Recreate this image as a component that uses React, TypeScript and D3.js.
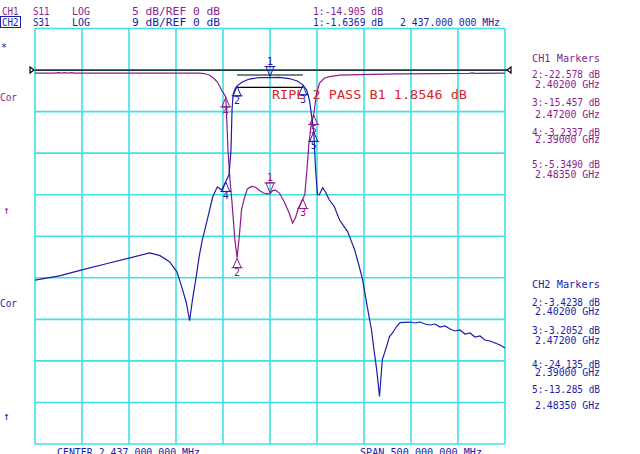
import React from "react";
import * as d3 from "d3";

// ---------- data ----------
const freqStart = 2187; // MHz
const freqStop = 2687; // MHz
const ch1Range = [5, -45]; // dB top/bottom (5 dB/div, ref 0 dB)
const ch2Range = [9, -81]; // dB top/bottom (9 dB/div, ref 0 dB)

// CH1 S11 (MHz, dB)
const ch1Trace: [number, number][] = [
  [2187, -0.36], [2207, -0.36], [2212, -0.32], [2215, -0.38], [2218, -0.32], [2222, -0.38],
  [2226, -0.32], [2229, -0.36], [2260, -0.36], [2300, -0.36], [2340, -0.36], [2362, -0.37],
  [2367, -0.42], [2372.5, -0.6], [2378, -1.08], [2381, -1.44], [2385.5, -2.4], [2390, -3.2337],
  [2392.3, -9.6], [2394.4, -13.2], [2396.5, -15.8], [2399.6, -20.4], [2402, -22.578],
  [2404.5, -19.8], [2406.7, -16.8], [2410, -15.3], [2413, -14.3], [2417.3, -14.0],
  [2421.6, -14.1], [2425.8, -14.5], [2430, -14.8], [2434.3, -14.9], [2437, -14.905],
  [2439.7, -14.5], [2442.8, -14.45], [2447, -14.8], [2452.4, -15.9], [2457.7, -17.3],
  [2461, -18.4], [2464, -17.8], [2467.3, -16.6], [2472, -15.457], [2474, -15.0],
  [2476.3, -12.0], [2478.3, -9.0], [2480.5, -6.8], [2483.5, -5.349], [2486.5, -2.8],
  [2489.7, -1.56], [2495, -0.96], [2500.3, -0.8], [2511, -0.6], [2532, -0.54], [2575, -0.46],
  [2649, -0.4], [2652, -0.33], [2655, -0.4], [2660, -0.4], [2687, -0.36],
];

// CH2 S31 (MHz, dB)
const ch2Trace: [number, number][] = [
  [2187, -45.5], [2213, -44.6], [2237, -43.3], [2266, -41.8], [2288, -40.7], [2309, -39.6],
  [2320, -40.2], [2330, -41.5], [2338, -43.7], [2343, -46.9], [2348, -50.4], [2351.5, -54.3],
  [2354.5, -49.8], [2358, -45.4], [2362, -40.0], [2365, -36.8], [2369.5, -33.1], [2376, -27.5],
  [2381, -25.3], [2385.5, -26.0], [2390, -24.135], [2393.4, -22.7], [2395.5, -17.3],
  [2396.6, -8.7], [2397.7, -5.4], [2399.8, -4.1], [2402, -3.4238], [2407.5, -2.6],
  [2415, -1.95], [2425.5, -1.62], [2437, -1.6369], [2447, -1.58], [2457.5, -1.84],
  [2466, -2.38], [2472, -3.2052], [2476, -4.3], [2479, -6.5], [2483.5, -13.285],
  [2485.5, -21.6], [2487.5, -27.0], [2489.5, -27.0], [2493, -25.5], [2496, -26.4],
  [2500, -28.1], [2505.5, -29.6], [2511, -32.5], [2519.5, -35.0], [2527, -38.9],
  [2532, -42.6], [2535.5, -45.4], [2540.5, -51.3], [2545, -56.3], [2548, -61.2],
  [2550.5, -64.9], [2553.5, -70.7], [2556.5, -62.7], [2561, -59.9], [2564, -57.8],
  [2567.5, -56.9], [2571.5, -55.6], [2575.3, -54.7], [2586, -54.58], [2591.3, -54.79],
  [2596.6, -54.58], [2601.9, -55.01], [2607.2, -55.22], [2612.5, -55.01], [2617.9, -55.66],
  [2623.2, -55.44], [2628.5, -56.09], [2633.8, -56.52], [2639.1, -56.3], [2644.4, -57.17],
  [2649.8, -56.95], [2655.1, -57.82], [2660.4, -57.61], [2665.7, -58.48], [2671, -58.69],
  [2676.4, -59.13], [2681.7, -59.56], [2687, -60.21],
];

const markerIds = ["1", "2", "3", "4", "5"];
const markerFreqs = [2437, 2402, 2472, 2390, 2483.5];
const ch1MarkerDb = [-14.905, -22.578, -15.457, -3.2337, -5.349];
const ch2MarkerDb = [-1.6369, -3.4238, -3.2052, -24.135, -13.285];

const rippleFreqs = [2402, 2472];
const rippleLevels = [-1.07, -3.74]; // CH2 dB

const headerCh1 = ["CH1", "S11", "LOG", "5 dB/REF 0 dB", "1:-14.905 dB"];
const headerCh2 = ["CH2", "S31", "LOG", "9 dB/REF 0 dB", "1:-1.6369 dB", "2 437.000 000 MHz"];
const ch1Panel = ["CH1 Markers", "2:-22.578 dB", "2.40200 GHz", "3:-15.457 dB", "2.47200 GHz",
  "4:-3.2337 dB", "2.39000 GHz", "5:-5.3490 dB", "2.48350 GHz"];
const ch2Panel = ["CH2 Markers", "2:-3.4238 dB", "2.40200 GHz", "3:-3.2052 dB", "2.47200 GHz",
  "4:-24.135 dB", "2.39000 GHz", "5:-13.285 dB", "2.48350 GHz"];
const rippleText = "RIPL 2 PASS B1 1.8546 dB";
const centerText = "CENTER 2 437.000 000 MHz";
const spanText = "SPAN 500.000 000 MHz";

// ---------- style ----------
const W = 640, H = 454;
const PURPLE = "#8B1C8B";
const BLUE = "#1C1CA6";
const GRID = "#40E0E8";
const RED = "#D42828";
const FONT = "DejaVu Sans Mono, monospace";

const L = 35, R = 505, T = 28.5, B = 444;

function Txt({ x, y, w, color, size = 10, children, anchor }: any) {
  return (
    <text x={x} y={y} fill={color} fontSize={size} fontFamily={FONT}
      textLength={w} lengthAdjust={w ? "spacingAndGlyphs" : undefined}
      textAnchor={anchor}>{children}</text>
  );
}

function Marker({ x, y, id, up, color }: any) {
  if (up) {
    const t = y + 0.5, b = y + 10;
    return (
      <g stroke={color} fill="none" strokeWidth={1}>
        <path d={`M${x},${t}L${x - 4},${b}L${x + 4},${b}Z M${x - 5.5},${b}H${x + 5.5}`} />
        <text x={x} y={y + 18} fill={color} stroke="none" fontSize={10} fontFamily={FONT} textAnchor="middle">{id}</text>
      </g>
    );
  }
  const t = y - 1, b = y - 11;
  return (
    <g stroke={color} fill="none" strokeWidth={1}>
      <path d={`M${x},${t}L${x - 4},${b}L${x + 4},${b}Z M${x - 5.5},${b}H${x + 5.5}`} />
      <text x={x} y={y - 13} fill={color} stroke="none" fontSize={10} fontFamily={FONT} textAnchor="middle">{id}</text>
    </g>
  );
}

export default function App() {
  const x = d3.scaleLinear().domain([freqStart, freqStop]).range([L, R]);
  const y1 = d3.scaleLinear().domain(ch1Range).range([T, B]);
  const y2 = d3.scaleLinear().domain(ch2Range).range([T, B]);
  const line1 = d3.line<[number, number]>().x((d) => x(d[0])).y((d) => y1(d[1]));
  const line2 = d3.line<[number, number]>().x((d) => x(d[0])).y((d) => y2(d[1]));
  const xt = d3.range(11).map((i) => L + (i * (R - L)) / 10);
  const yt = d3.range(11).map((i) => T + (i * (B - T)) / 10);
  const refY = y1(0);

  const headerX = [2, 33, 72, 132, 313, 400];
  const headerW = [16.5, 16.5, 18, 88, 70, 100];
  const panelY1 = [61.7, 78.3, 87.7, 106, 118.3, 135.7, 143.3, 168.3, 178.3];
  const panelY2 = [288.3, 306, 315, 334, 344, 368.3, 376, 393.3, 409.3];

  return (
    <svg width={W} height={H} style={{ position: "absolute", left: 0, top: 0, background: "#fff" }}>
      <rect x={0} y={0} width={W} height={H} fill="#fff" />
      {/* grid */}
      <g stroke={GRID} strokeWidth={1.6}>
        {xt.map((v, i) => <line key={"x" + i} x1={v} x2={v} y1={T} y2={B} />)}
        {yt.map((v, i) => <line key={"y" + i} x1={L} x2={R} y1={v} y2={v} />)}
      </g>
      {/* traces */}
      <path d={line1(ch1Trace) || ""} fill="none" stroke={PURPLE} strokeWidth={1.2} />
      <path d={line2(ch2Trace) || ""} fill="none" stroke={BLUE} strokeWidth={1.2} />
      {/* reference line */}
      <g stroke="#000" strokeWidth={1.2} fill="none">
        <line x1={L} x2={R} y1={refY} y2={refY} />
        <path d={`M${L - 5},${refY - 3}L${L - 1},${refY}L${L - 5},${refY + 3}Z`} />
        <path d={`M${R + 6},${refY - 3}L${R + 2},${refY}L${R + 6},${refY + 3}Z`} />
        <line x1={R} x2={R + 2} y1={refY} y2={refY} />
        {rippleLevels.map((lv, i) => (
          <line key={"r" + i} x1={x(rippleFreqs[0])} x2={x(rippleFreqs[1])} y1={y2(lv)} y2={y2(lv)} />
        ))}
      </g>
      {/* markers */}
      {markerFreqs.map((f, i) => (
        <Marker key={"m1" + i} x={x(f)} y={y1(ch1MarkerDb[i])} id={markerIds[i]} up={i !== 0} color={PURPLE} />
      ))}
      {markerFreqs.map((f, i) => (
        <Marker key={"m2" + i} x={x(f)} y={y2(ch2MarkerDb[i])} id={markerIds[i]} up={i !== 0} color={BLUE} />
      ))}
      {/* ripple text */}
      <Txt x={272} y={98.5} w={195} color={RED} size={13}>{rippleText}</Txt>
      {/* header */}
      {headerCh1.map((s, i) => (
        <Txt key={"h1" + i} x={headerX[i]} y={14.5} w={headerW[i]} color={PURPLE}>{s}</Txt>
      ))}
      {headerCh2.map((s, i) => (
        <Txt key={"h2" + i} x={headerX[i]} y={25.5} w={headerW[i]} color={BLUE}>{s}</Txt>
      ))}
      <rect x={0.5} y={16.5} width={20} height={11} fill="none" stroke={BLUE} strokeWidth={1} />
      {/* left labels */}
      <Txt x={1} y={51} color={BLUE} size={10}>*</Txt>
      <Txt x={0} y={101} w={17} color={PURPLE}>Cor</Txt>
      <Txt x={3} y={214} color={PURPLE} size={11}>↑</Txt>
      <Txt x={0} y={307} w={17} color={BLUE}>Cor</Txt>
      <Txt x={3} y={419.5} color={BLUE} size={11}>↑</Txt>
      {/* right panels */}
      {ch1Panel.map((s, i) => (
        <Txt key={"p1" + i} x={s.includes("GHz") ? 535 : 532} y={panelY1[i]} w={s.includes("GHz") ? 65 : 68} color={PURPLE}>{s}</Txt>
      ))}
      {ch2Panel.map((s, i) => (
        <Txt key={"p2" + i} x={s.includes("GHz") ? 535 : 532} y={panelY2[i]} w={s.includes("GHz") ? 65 : 68} color={BLUE}>{s}</Txt>
      ))}
      {/* bottom */}
      <Txt x={57} y={455.5} w={143} color={BLUE}>{centerText}</Txt>
      <Txt x={360} y={455.5} w={122} color={BLUE}>{spanText}</Txt>
    </svg>
  );
}
